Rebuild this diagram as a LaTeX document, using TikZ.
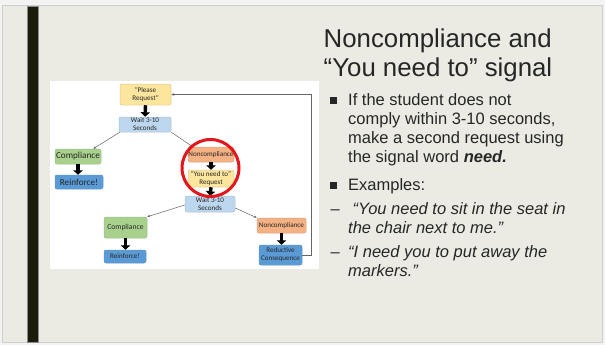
\documentclass[tikz,border=0pt]{standalone}
\usepackage{fontspec}
\setmainfont{Liberation Sans}
\newfontfamily\diagfont{Carlito}
\usetikzlibrary{arrows.meta,calc}

\definecolor{pagebg}{HTML}{F3F3F3}
\definecolor{slidebg}{HTML}{EBEBE3}
\definecolor{slideedge}{HTML}{CFCFCF}
\definecolor{barcol}{HTML}{1C1C0B}
\definecolor{ink}{HTML}{262626}
\definecolor{reqyellow}{HTML}{FCE59C}
\definecolor{waitblue}{HTML}{BDD7EE}
\definecolor{okgreen}{HTML}{A9D18E}
\definecolor{rewblue}{HTML}{5B9BD5}
\definecolor{noorange}{HTML}{F4B183}
\definecolor{ringred}{HTML}{E3161B}

\tikzset{
  box/.style={rounded corners=2pt, inner sep=0pt, align=center, text=black!85,
              line width=0.5pt},
  reqbox/.style={box, fill=reqyellow, draw=reqyellow!75!gray},
  waitbox/.style={box, fill=waitblue, draw=waitblue!75!gray},
  okbox/.style={box, fill=okgreen, draw=okgreen!75!gray},
  rewbox/.style={box, fill=rewblue, draw=rewblue!80!gray},
  nobox/.style={box, fill=noorange, draw=noorange!75!gray},
  thinarr/.style={draw=black!60, line width=0.5pt, -{Stealth[length=3pt,width=2.6pt]}},
  bigarr/.style={draw=black, line width=3.4pt, -{Triangle[width=9.5pt,length=4.5pt]}},
  line/.style={anchor=base west, inner sep=0pt, text=ink, font=\fontsize{16.5}{19}\selectfont},
  bulletsq/.style={fill=ink, minimum size=6.5pt, inner sep=0pt},
  smallt/.style={font=\diagfont\fontsize{7.1}{7.9}\selectfont},
  bigt/.style={font=\diagfont\fontsize{9.2}{10}\selectfont},
  midt/.style={font=\diagfont\fontsize{7.6}{8.6}\selectfont},
}

\begin{document}
\begin{tikzpicture}[x=1pt, y=-1pt]
\useasboundingbox (0,0) rectangle (605,345);

% page and slide
\fill[pagebg] (0,0) rectangle (605,345);
\filldraw[fill=slidebg, draw=slideedge, line width=0.8pt] (2.5,5) rectangle (602,342);
\filldraw[fill=barcol, draw=black!45, line width=0.4pt] (27.5,6) rectangle (38.5,342);

% white panel holding the flow chart
\fill[white] (50,81) rectangle (319,269);

% flow chart boxes
\node[reqbox, smallt, minimum width=51pt, minimum height=21pt] (pr) at (145.5,94.5) {"Please\\Request"};
\node[waitbox, smallt, minimum width=52pt, minimum height=15pt] (w1) at (145,124.5) {Wait 3-10\\Seconds};
\node[okbox, bigt, minimum width=46pt, minimum height=15pt] (c1) at (78,156.5) {Compliance};
\node[rewbox, bigt, minimum width=48pt, minimum height=14pt] (r1) at (79,182) {Reinforce!};
\node[nobox, smallt, minimum width=46pt, minimum height=15pt] (n1) at (211,154.5) {Noncompliance};
\node[reqbox, smallt, minimum width=46pt, minimum height=17pt] (y1) at (211,178.5) {“You need to”\\Request};
\node[waitbox, smallt, minimum width=50pt, minimum height=16pt] (w2) at (210,204) {Wait 3-10\\Seconds};
\node[okbox, midt, minimum width=43pt, minimum height=21pt] (c2) at (125.5,227.5) {Compliance};
\node[rewbox, smallt, minimum width=42pt, minimum height=13pt] (r2) at (125,256.5) {Reinforce!};
\node[nobox, smallt, minimum width=49pt, minimum height=15pt] (n2) at (281.5,225.5) {Noncompliance};
\node[rewbox, smallt, minimum width=43pt, minimum height=20pt] (rc) at (280.5,255) {Reductive\\Consequence};

% thin branch connectors
\draw[thinarr] ([xshift=1pt]w1.south west) -- ([xshift=-8pt]c1.north east);
\draw[thinarr] (w1.south east) -- ([xshift=5pt]n1.north west);
\draw[thinarr] ([yshift=-1pt]w2.west) -- (c2.north east);
\draw[thinarr] ([yshift=-4pt]w2.east) -- (n2.north west);
\draw[thinarr] (rc.east) -- ++(9,0) |- (pr.east);

% thick step arrows
\draw[bigarr] (pr.south) -- (w1.north);
\draw[bigarr] (c1.south) -- (c1.south |- r1.north);
\draw[bigarr] (n1.south) -- (y1.north);
\draw[bigarr] (y1.south) -- (w2.north);
\draw[bigarr] (c2.south) -- (c2.south |- r2.north);
\draw[bigarr] (n2.south) -- (n2.south |- rc.north);

% highlight ring
\node[circle, draw=ringred, line width=3pt, minimum size=57pt, inner sep=0pt] (ring) at (210.5,168) {};

% title
\node[anchor=base west, inner sep=0pt, text=ink, font=\fontsize{25.8}{29}\selectfont] (t1) at (323.5,47.5) {Noncompliance and};
\node[anchor=base west, inner sep=0pt, text=ink, font=\fontsize{25.8}{29}\selectfont] (t2) at (323.5,76.5) {“You need to” signal};

% bullet list
\node[bulletsq] (b1) at (333.5,100.3) {};
\node[line] (l1) at (348,105) {If the student does not};
\node[line] (l2) at (348,124.2) {comply within 3-10 seconds,};
\node[line] (l3) at (348,143.4) {make a second request using};
\node[line] (l4) at (348,162.6) {the signal word \textbf{\textit{need.}}};
\node[bulletsq] (b2) at (333.5,185.5) {};
\node[line] (l5) at (348,190.2) {Examples:};
\node[line] (d1) at (330.5,214.3) {–};
\node[line] (l6) at (352.5,214.3) {\textit{“You need to sit in the seat in}};
\node[line] (l7) at (348,233.4) {\textit{the chair next to me.”}};
\node[line] (d2) at (330.5,257.5) {–};
\node[line] (l8) at (348,257.5) {\textit{“I need you to put away the}};
\node[line] (l9) at (348,276.6) {\textit{markers.”}};
\end{tikzpicture}
\end{document}
